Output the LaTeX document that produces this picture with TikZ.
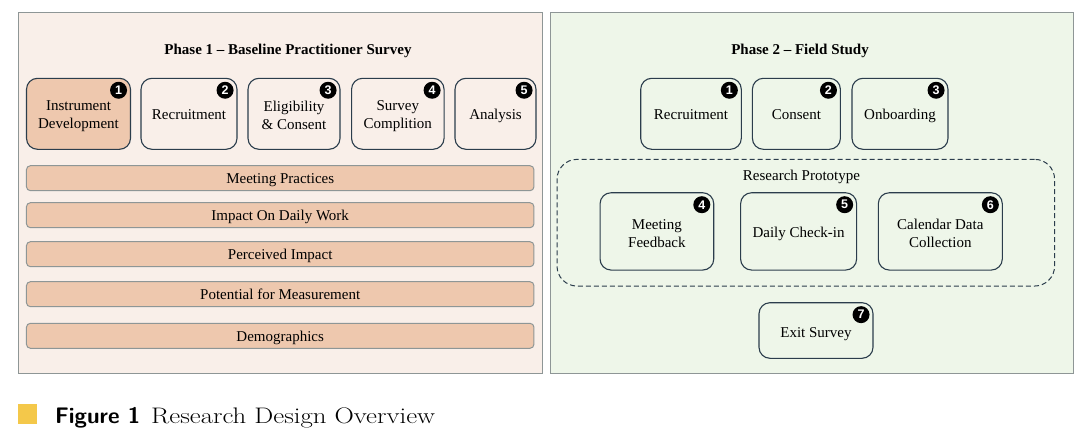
\documentclass[tikz,border=0pt]{standalone}
\usepackage{fontspec}
\newfontfamily\tnr{Liberation Serif}
\newfontfamily\badgefont{Liberation Sans}
\definecolor{leftbg}{HTML}{F9EFE9}
\definecolor{rightbg}{HTML}{EEF6E9}
\definecolor{peach}{HTML}{EEC8AE}
\definecolor{panelline}{HTML}{8E9696}
\definecolor{boxline}{HTML}{2B3D4C}
\definecolor{capyellow}{HTML}{F4C84A}
\tikzset{
  panel/.style={draw=panelline, line width=1pt, inner sep=0pt},
  box/.style={draw=boxline, line width=1.1pt, rounded corners=11pt, inner sep=0pt},
  lbl/.style={align=center, font=\tnr\fontsize{15}{18}\selectfont, inner sep=0pt},
  one/.style={lbl, text height=10pt, text depth=3.3pt},
  bar/.style={draw=panelline, fill=peach, line width=1pt, rounded corners=4pt,
    minimum width=507.5pt, minimum height=25pt, inner sep=0pt},
  badge/.style={circle, fill=black, minimum size=17pt, inner sep=0pt, text=white,
    font=\badgefont\bfseries\fontsize{12.5}{12.5}\selectfont},
  ttl/.style={font=\tnr\bfseries\fontsize{15}{18}\selectfont, inner sep=0pt},
  group/.style={draw=boxline, dash pattern=on 5pt off 3pt, line width=1pt, rounded corners=20pt, inner sep=0pt}
}
\begin{document}
\begin{tikzpicture}[x=1pt,y=-1pt]
\useasboundingbox (0,0) rectangle (1086,444);
% panels
\node[panel, fill=leftbg, minimum width=524pt, minimum height=360pt] (left) at (280,193) {};
\node[panel, fill=rightbg, minimum width=523pt, minimum height=360pt] (right) at (811.5,193) {};
\node[ttl] (t1) at (288,51) {Phase 1 – Baseline Practitioner Survey};
\node[ttl] (t2) at (800,51) {Phase 2 – Field Study};
% phase 1 boxes
\node[box, fill=peach, minimum width=104pt, minimum height=71pt] (b1) at (78.5,113.8) {};
\node[box, minimum width=96pt, minimum height=71pt] (b2) at (189,113.8) {};
\node[box, minimum width=92pt, minimum height=71pt] (b3) at (294,113.8) {};
\node[box, minimum width=92.5pt, minimum height=71pt] (b4) at (397.8,113.8) {};
\node[box, minimum width=81pt, minimum height=71pt] (b5) at (495.5,113.8) {};
\node[lbl] (b1t) at ([yshift=-2.5pt]b1.center) {Instrument\\Development};
\node[one] (b2t) at ([yshift=-2.5pt]b2.center) {Recruitment};
\node[lbl] (b3t) at ([yshift=-1.5pt]b3.center) {Eligibility\\\& Consent};
\node[lbl] (b4t) at ([yshift=-2.5pt]b4.center) {Survey\\Complition};
\node[one] (b5t) at ([yshift=-2.5pt]b5.center) {Analysis};
\foreach \n/\k in {b1/1,b2/2,b3/3,b4/4,b5/5}
  \node[badge] (\n n) at ([xshift=-12.5pt,yshift=-12.5pt]\n.north east) {\k};
% bars
\node[bar] (m1) at (280.2,178.2) {};
\node[bar] (m2) at (280.2,215.2) {};
\node[bar] (m3) at (280.2,254.2) {};
\node[bar] (m4) at (280.2,294.2) {};
\node[bar] (m5) at (280.2,335.8) {};
\node[one] (m1t) at ([yshift=-2.3pt]m1.center) {Meeting Practices};
\node[one] (m2t) at ([yshift=-2.3pt]m2.center) {Impact On Daily Work};
\node[one] (m3t) at ([yshift=-2.3pt]m3.center) {Perceived Impact};
\node[one] (m4t) at ([yshift=-2.3pt]m4.center) {Potential for Measurement};
\node[one] (m5t) at ([yshift=-2.3pt]m5.center) {Demographics};
% phase 2
\node[box, minimum width=100.6pt, minimum height=71pt] (r1) at (691,113.8) {};
\node[box, minimum width=88pt, minimum height=71pt] (r2) at (796.4,113.8) {};
\node[box, minimum width=96pt, minimum height=71pt] (r3) at (900,113.8) {};
\node[group, minimum width=497.6pt, minimum height=126.7pt] (proto) at (805.8,222.7) {};
\node[one] (protot) at (801.5,177.3) {Research Prototype};
\node[box, minimum width=113.7pt, minimum height=77.3pt] (r4) at (656.9,231.4) {};
\node[box, minimum width=116pt, minimum height=77.3pt] (r5) at (798.6,231.4) {};
\node[box, minimum width=124pt, minimum height=77.3pt] (r6) at (940.3,231.4) {};
\node[box, minimum width=114pt, minimum height=55.6pt] (r7) at (816,330.5) {};
\node[one] (r1t) at ([yshift=-2.5pt]r1.center) {Recruitment};
\node[one] (r2t) at ([yshift=-2.5pt]r2.center) {Consent};
\node[one] (r3t) at ([yshift=-2.5pt]r3.center) {Onboarding};
\node[lbl] (r4t) at ([yshift=-2pt]r4.center) {Meeting\\Feedback};
\node[one] (r5t) at ([yshift=-3pt]r5.center) {Daily Check-in};
\node[lbl] (r6t) at ([yshift=-1.7pt]r6.center) {Calendar Data\\Collection};
\node[one] (r7t) at ([yshift=-3.5pt]r7.center) {Exit Survey};
\foreach \n/\k in {r1/1,r2/2,r3/3,r4/4,r5/5,r6/6,r7/7}
  \node[badge] (\n n) at ([xshift=-12.5pt,yshift=-12.5pt]\n.north east) {\k};
% caption
\node[fill=capyellow, minimum width=19pt, minimum height=19.5pt, inner sep=0pt] (sq) at (27.8,414) {};
\node[anchor=base west, inner sep=0pt, font=\fontsize{22.5}{26}\selectfont] (cap) at (55,423.5)
  {{\sffamily\bfseries Figure 1}\hspace{11pt}\scalebox{1.19}[1]{Research Design Overview}};
\end{tikzpicture}
\end{document}
